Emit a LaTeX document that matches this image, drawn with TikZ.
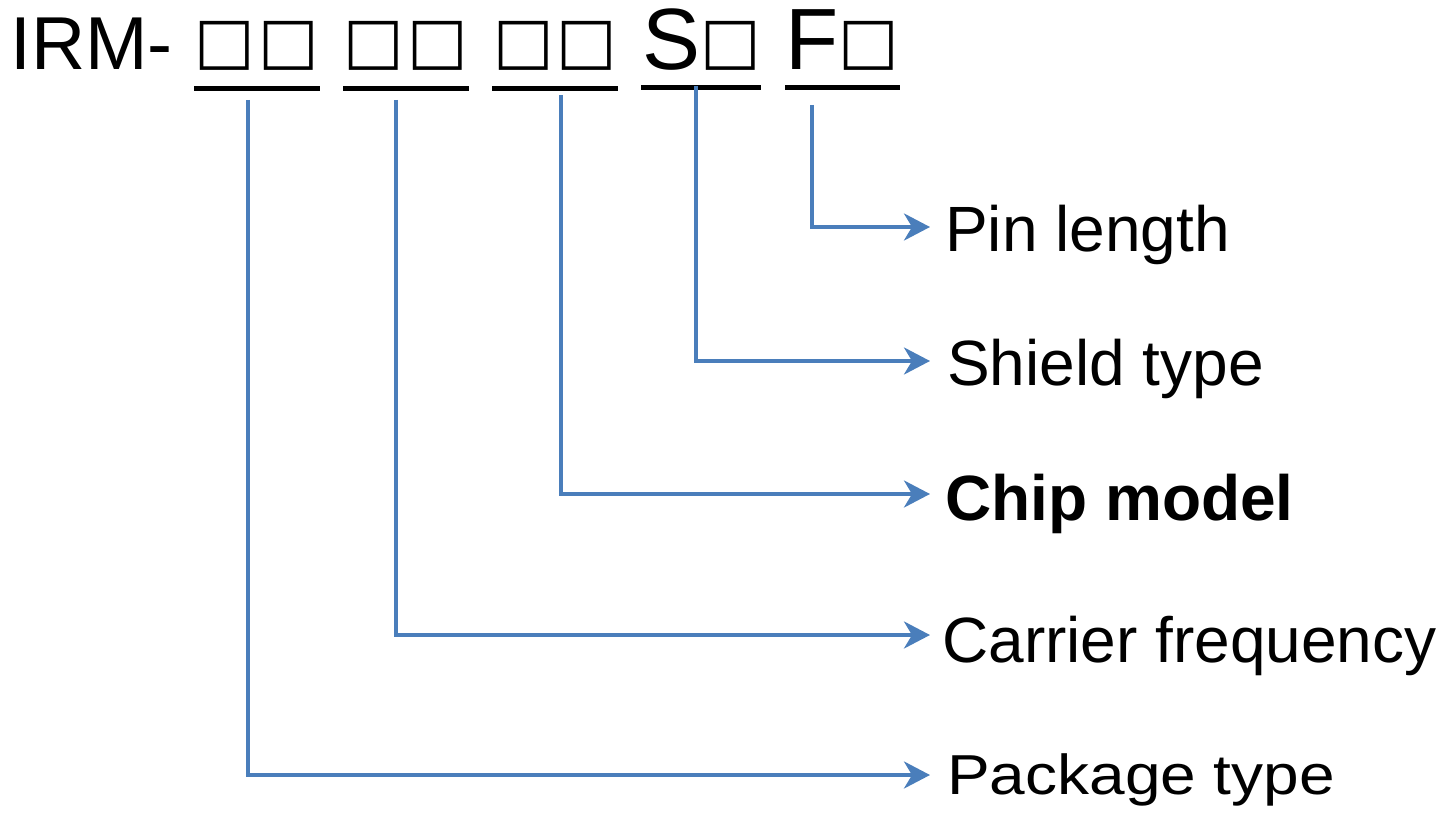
\documentclass[tikz,border=0pt]{standalone}
\usepackage{fontspec}
\setmainfont{Liberation Sans}
\newfontfamily\dv{DejaVu Sans}
\usetikzlibrary{arrows.meta}
\definecolor{lineblue}{HTML}{4A7EBB}
\begin{document}
\begin{tikzpicture}[x=1pt,y=-1pt,
  conn/.style={draw=lineblue,line width=3.6pt,-{Stealth[length=26pt,width=27pt,inset=8pt]}},
  uline/.style={draw=black,line width=5pt},
  sq/.style={inner sep=0pt,anchor=center,font=\dv\fontsize{64}{64}\selectfont},
  lbl/.style={inner sep=0pt,anchor=base west,font=\fontsize{64}{64}\selectfont},
  big/.style={inner sep=0pt,anchor=base west}]
\useasboundingbox (0,0) rectangle (1447,813);
% top code
\node[big,font=\fontsize{75}{75}\selectfont] (irm) at (10,70) {IRM-};
\node[sq] (b1) at (225,46) {□};
\node[sq] (b2) at (289,46) {□};
\node[sq] (b3) at (374,46) {□};
\node[sq] (b4) at (437.5,46) {□};
\node[sq] (b5) at (524,46) {□};
\node[sq] (b6) at (587,46) {□};
\node[big,font=\fontsize{87}{87}\selectfont] (s) at (642,70) {S};
\node[sq] (b7) at (730.5,46) {□};
\node[big,font=\fontsize{87}{87}\selectfont] (f) at (785,70) {F};
\node[sq] (b8) at (869,46) {□};
% underlines
\draw[uline] (194,89) -- (320,89);
\draw[uline] (343,89) -- (469,89);
\draw[uline] (492,89) -- (618,89);
\draw[uline] (641,88) -- (761,88);
\draw[uline] (785,88) -- (900,88);
% labels
\node[lbl] (pin) at (945,251) {Pin length};
\node[lbl] (shield) at (947,385) {Shield type};
\node[lbl,font=\bfseries\fontsize{64}{64}\selectfont] (chip) at (945,520) {Chip model};
\node[lbl] (carrier) at (942,662) {Carrier frequency};
\node[lbl] (package) at (947,794) {\scalebox{1}[0.88]{Package type}};
% connector ends
\coordinate (s1) at (248,100);
\coordinate (s2) at (396,100);
\coordinate (s3) at (561,95);
\coordinate (s4) at (696,86);
\coordinate (s5) at (812,105);
\coordinate (e1) at (930,775);
\coordinate (e2) at (930,635);
\coordinate (e3) at (930,494);
\coordinate (e4) at (930,361);
\coordinate (e5) at (930,227);
\draw[conn] (s1) |- (e1);
\draw[conn] (s2) |- (e2);
\draw[conn] (s3) |- (e3);
\draw[conn] (s4) |- (e4);
\draw[conn] (s5) |- (e5);
\end{tikzpicture}
\end{document}
